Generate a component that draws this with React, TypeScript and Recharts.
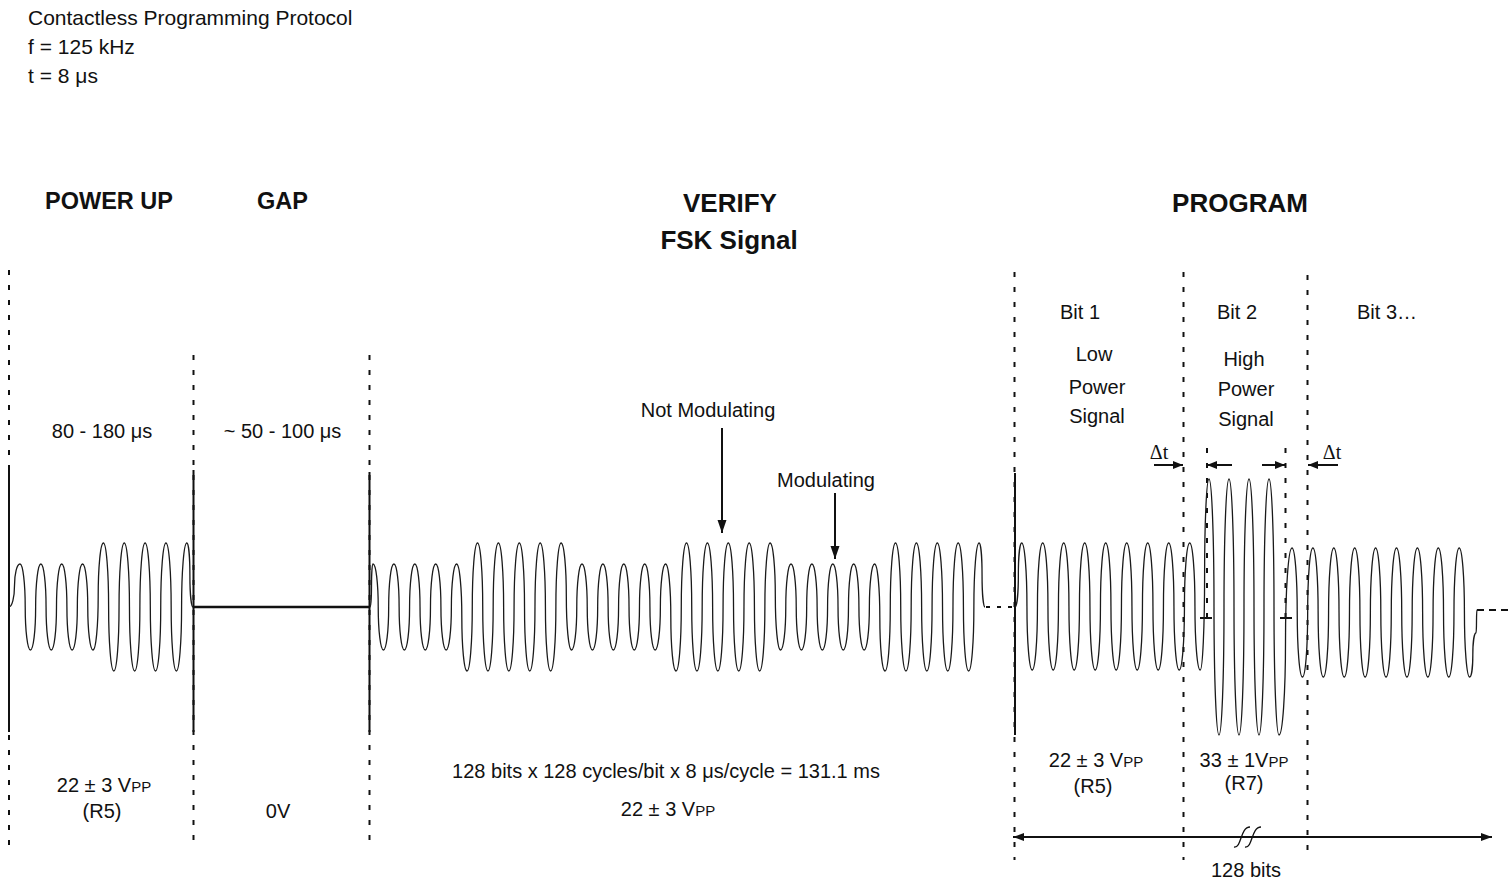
import React from "react";
import { LineChart, Line, XAxis, YAxis, ReferenceLine, ReferenceDot } from "recharts";

// carrier amplitude of each cycle (0 = centre line)
const powerUpPeaks = [43, 43, 43, 43, 64, 64, 64, 64, 64];
const powerUpTroughs = [43, 43, 43, 43, 64, 64, 64, 64];

const verifyPeaks = [
  43, 43, 43, 43, 43, 64, 64, 64, 64, 64,
  43, 43, 43, 43, 43, 64, 64, 64, 64, 64,
  43, 43, 43, 43, 43, 64, 64, 64, 64, 64,
];
const verifyTroughs = [
  43, 43, 43, 43, 64, 64, 64, 64, 64, 43,
  43, 43, 43, 43, 64, 64, 64, 64, 64, 43,
  43, 43, 43, 43, 64, 64, 64, 64, 64,
];

const bit1Peaks = [64, 64, 64, 64, 64, 64, 64, 64, 64];
const bit1Troughs = [63, 63, 63, 63, 63, 63, 63, 63, 63];
const bit2Peaks = [128, 128, 128, 128];
const bit2Troughs = [128, 128, 128, 128];
const bit3Peaks = [59, 59, 59, 59, 59, 59, 59, 59, 59];
const bit3Troughs = [70, 70, 70, 70, 70, 70, 70, 70, 70];

type Pt = { x: number; y: number };

// one point per peak / trough, the curve below draws the lobes between them
function carrier(firstPeak: number, period: number, peaks: number[], troughs: number[]): Pt[] {
  const pts: Pt[] = [];
  peaks.forEach((a, k) => {
    pts.push({ x: firstPeak + k * period, y: a });
    if (k < troughs.length) pts.push({ x: firstPeak + k * period + period / 2, y: -troughs[k] });
  });
  return pts;
}

const powerUpWave: Pt[] = [{ x: 9, y: 0 }, ...carrier(20, 20.85, powerUpPeaks, powerUpTroughs), { x: 193, y: 0 }];
const gapLine: Pt[] = [{ x: 193, y: 0 }, { x: 370, y: 0 }];
const verifyWave: Pt[] = [{ x: 370, y: 0 }, ...carrier(373, 20.9, verifyPeaks, verifyTroughs), { x: 985, y: 0 }];
const programWave: Pt[] = [
  { x: 1015, y: 0 },
  ...carrier(1021.7, 21, bit1Peaks, bit1Troughs),
  ...carrier(1209, 20, bit2Peaks, bit2Troughs),
  ...carrier(1292, 20.9, bit3Peaks, bit3Troughs),
  { x: 1476, y: -26 },
  { x: 1477, y: -3 },
];

// d3-style curve: flat tangent at each extreme, vertical tangent half way,
// which gives the rounded "elliptical" lobes of the drawing
const lobeCurve = (context: any) => {
  const k = 0.5523;
  let px = 0;
  let py = 0;
  let started = false;
  return {
    areaStart() {},
    areaEnd() {},
    lineStart() {
      started = false;
    },
    lineEnd() {},
    point(x: number, y: number) {
      x = +x;
      y = +y;
      if (!started) {
        context.moveTo(x, y);
        started = true;
      } else {
        const xm = (px + x) / 2;
        const ym = (py + y) / 2;
        context.bezierCurveTo(px + k * (xm - px), py, xm, ym + k * (py - ym), xm, ym);
        context.bezierCurveTo(xm, ym + k * (y - ym), x - k * (x - xm), y, x, y);
      }
      px = x;
      py = y;
    },
  };
};

const INK = "#111";
const SANS = "'Liberation Sans', Arial, sans-serif";

function arrow(p: any, both: boolean, len = 10, half = 4) {
  const { x1, y1, x2, y2 } = p;
  const dx = x2 - x1;
  const dy = y2 - y1;
  const l = Math.hypot(dx, dy) || 1;
  const ux = dx / l;
  const uy = dy / l;
  const head = (tx: number, ty: number, sx: number, sy: number) => {
    const bx = tx - sx * len;
    const by = ty - sy * len;
    return `${tx},${ty} ${bx - sy * half},${by + sx * half} ${bx + sy * half},${by - sx * half}`;
  };
  return (
    <g>
      <line x1={x1} y1={y1} x2={x2} y2={y2} stroke={INK} strokeWidth={2} />
      <polygon points={head(x2, y2, ux, uy)} fill={INK} />
      {both && <polygon points={head(x1, y1, -ux, -uy)} fill={INK} />}
    </g>
  );
}

function breakMark(p: any) {
  const { cx, cy } = p;
  const s = (ox: number) =>
    `M${cx + ox - 10},${cy + 10} C${cx + ox - 2},${cy + 11} ${cx + ox - 4},${cy - 10} ${cx + ox + 6},${cy - 10}`;
  return (
    <g fill="none" stroke={INK} strokeWidth={1.3}>
      <path d={s(-5)} />
      <path d={s(6)} />
    </g>
  );
}

const dashed = { stroke: INK, strokeWidth: 2, strokeDasharray: "5 10", ifOverflow: "visible" as const };
const solid = { stroke: INK, strokeWidth: 2, ifOverflow: "visible" as const };
const wave = { dataKey: "y", type: lobeCurve as any, dot: false, activeDot: false, stroke: "#1a1a1a", strokeWidth: 1.3, isAnimationActive: false };

function Vpp({ x, y, main }: { x: number; y: number; main: string }) {
  return (
    <text x={x} y={y} textAnchor="middle" fontSize={20}>
      {main}
      <tspan fontSize={15}>PP</tspan>
    </text>
  );
}

export default function App() {
  return (
    <div style={{ position: "absolute", left: 0, top: 0, width: 1510, height: 882, background: "#fff" }}>
      <LineChart width={1510} height={882} margin={{ top: 0, right: 0, bottom: 0, left: 0 }}>
        <XAxis dataKey="x" type="number" domain={[0, 1510]} hide allowDataOverflow />
        <YAxis type="number" domain={[-275, 607]} hide allowDataOverflow />

        {/* section separators */}
        <ReferenceLine segment={[{ x: 9, y: 337 }, { x: 9, y: -240 }]} {...dashed} />
        <ReferenceLine segment={[{ x: 193.5, y: 252 }, { x: 193.5, y: -240 }]} {...dashed} />
        <ReferenceLine segment={[{ x: 369.5, y: 252 }, { x: 369.5, y: -240 }]} {...dashed} />
        <ReferenceLine segment={[{ x: 1014.5, y: 335 }, { x: 1014.5, y: -253 }]} {...dashed} />
        <ReferenceLine segment={[{ x: 1183.5, y: 335 }, { x: 1183.5, y: -253 }]} {...dashed} />
        <ReferenceLine segment={[{ x: 1307.5, y: 332 }, { x: 1307.5, y: -253 }]} {...dashed} />
        <ReferenceLine segment={[{ x: 1207, y: 159 }, { x: 1207, y: -11 }]} {...dashed} />
        <ReferenceLine segment={[{ x: 1285.5, y: 159 }, { x: 1285.5, y: -11 }]} {...dashed} />

        <ReferenceLine segment={[{ x: 9, y: 137 }, { x: 9, y: -125 }]} {...solid} />
        <ReferenceLine segment={[{ x: 193.5, y: 137 }, { x: 193.5, y: -125 }]} {...solid} />
        <ReferenceLine segment={[{ x: 369.5, y: 135 }, { x: 369.5, y: -125 }]} {...solid} />
        <ReferenceLine segment={[{ x: 1015, y: 134 }, { x: 1015, y: -128 }]} {...solid} />

        <ReferenceLine segment={[{ x: 1200, y: -11 }, { x: 1212, y: -11 }]} {...solid} />
        <ReferenceLine segment={[{ x: 1280, y: -11 }, { x: 1292, y: -11 }]} {...solid} />

        <ReferenceLine segment={[{ x: 986, y: 0 }, { x: 1014, y: 0 }]} stroke={INK} strokeWidth={2} strokeDasharray="4 7" />
        <ReferenceLine segment={[{ x: 1477, y: -3 }, { x: 1510, y: -3 }]} stroke={INK} strokeWidth={2} strokeDasharray="7 5" />

        {/* arrows */}
        <ReferenceLine segment={[{ x: 722, y: 179 }, { x: 722, y: 74 }]} shape={(p: any) => arrow(p, false, 13, 4.5)} />
        <ReferenceLine segment={[{ x: 835, y: 114 }, { x: 835, y: 48 }]} shape={(p: any) => arrow(p, false, 13, 4.5)} />
        <ReferenceLine segment={[{ x: 1154, y: 142 }, { x: 1183, y: 142 }]} shape={(p: any) => arrow(p, false)} />
        <ReferenceLine segment={[{ x: 1232, y: 142 }, { x: 1207, y: 142 }]} shape={(p: any) => arrow(p, false)} />
        <ReferenceLine segment={[{ x: 1262, y: 142 }, { x: 1285, y: 142 }]} shape={(p: any) => arrow(p, false)} />
        <ReferenceLine segment={[{ x: 1338, y: 142 }, { x: 1308, y: 142 }]} shape={(p: any) => arrow(p, false)} />
        <ReferenceLine segment={[{ x: 1013, y: -230 }, { x: 1492, y: -230 }]} shape={(p: any) => arrow(p, true, 11, 4)} />
        <ReferenceDot x={1249} y={-230} r={0} shape={breakMark} />

        <Line data={gapLine} dataKey="y" type="linear" dot={false} activeDot={false} stroke={INK} strokeWidth={2.5} isAnimationActive={false} />
        <Line data={powerUpWave} {...wave} />
        <Line data={verifyWave} {...wave} />
        <Line data={programWave} {...wave} />
      </LineChart>

      <svg width={1510} height={882} style={{ position: "absolute", left: 0, top: 0, pointerEvents: "none" }} fontFamily={SANS} fill={INK}>
        <text x={28} y={25} fontSize={21}>Contactless Programming Protocol</text>
        <text x={28} y={54} fontSize={21}>f = 125 kHz</text>
        <text x={28} y={83} fontSize={21}>t = 8 μs</text>

        <g fontWeight="bold" textAnchor="middle">
          <text x={109} y={209} fontSize={23.5}>POWER UP</text>
          <text x={282.5} y={209} fontSize={23.5}>GAP</text>
          <text x={730} y={212} fontSize={26}>VERIFY</text>
          <text x={729} y={249} fontSize={26}>FSK Signal</text>
          <text x={1240} y={212} fontSize={26}>PROGRAM</text>
        </g>

        <g textAnchor="middle" fontSize={20}>
          <text x={102} y={438}>80 - 180 μs</text>
          <text x={282.5} y={438}>~ 50 - 100 μs</text>
          <text x={708} y={417}>Not Modulating</text>
          <text x={826} y={487}>Modulating</text>

          <text x={1080} y={319}>Bit 1</text>
          <text x={1237} y={319}>Bit 2</text>
          <text x={1387} y={319}>Bit 3…</text>
          <text x={1094} y={361}>Low</text>
          <text x={1097} y={394}>Power</text>
          <text x={1097} y={423}>Signal</text>
          <text x={1244} y={366}>High</text>
          <text x={1246} y={396}>Power</text>
          <text x={1246} y={426}>Signal</text>

          <text x={102} y={818}>(R5)</text>
          <text x={278} y={818}>0V</text>
          <text x={666} y={778}>128 bits x 128 cycles/bit x 8 μs/cycle = 131.1 ms</text>
          <text x={1093} y={793}>(R5)</text>
          <text x={1244} y={790}>(R7)</text>
          <text x={1246} y={877}>128 bits</text>
        </g>
        <Vpp x={104} y={792} main="22 ± 3 V" />
        <Vpp x={668} y={816} main="22 ± 3 V" />
        <Vpp x={1096} y={767} main="22 ± 3 V" />
        <Vpp x={1244} y={767} main="33 ± 1V" />

        <g fontFamily="'Liberation Serif', 'Times New Roman', serif" fontSize={20} textAnchor="middle">
          <text x={1159} y={459}>Δt</text>
          <text x={1332} y={459}>Δt</text>
        </g>
      </svg>
    </div>
  );
}
